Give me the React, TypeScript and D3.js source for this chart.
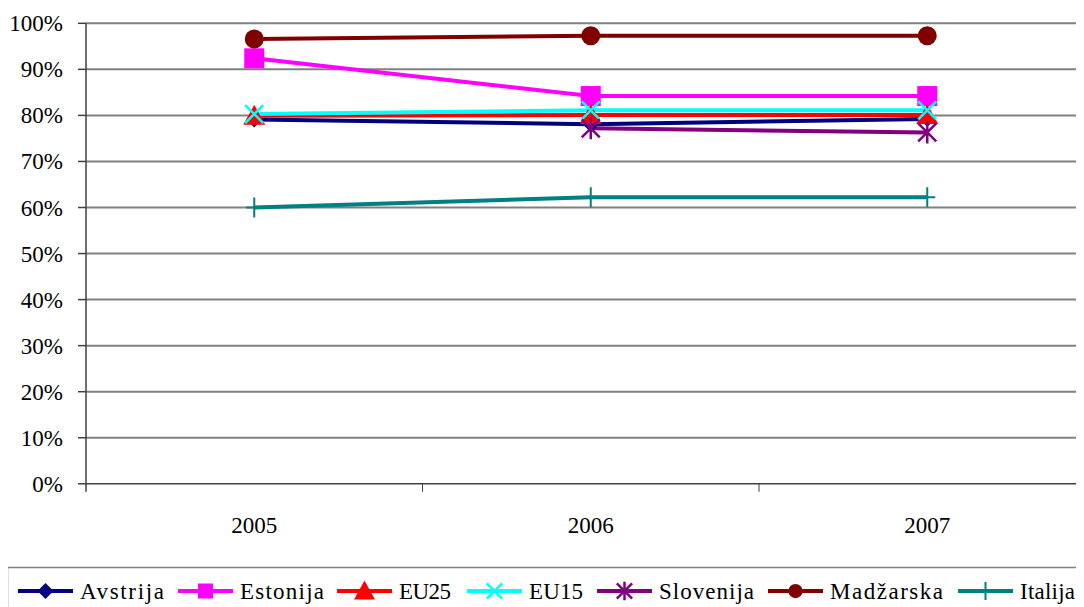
import React, { useEffect, useRef } from "react";
import * as d3 from "d3";

const years = ["2005", "2006", "2007"];
const yTicks = [0, 10, 20, 30, 40, 50, 60, 70, 80, 90, 100];

const avstrija = [79.1, 78.1, 79.2];
const estonija = [92.4, 84.2, 84.2];
const eu25 = [79.9, 80.1, 80.1];
const eu15 = [80.3, 81.1, 81.1];
const slovenija = [null, 77.2, 76.3];
const madzarska = [96.6, 97.3, 97.3];
const italija = [60, 62.2, 62.2];

const seriesNames = ["Avstrija", "Estonija", "EU25", "EU15", "Slovenija", "Madžarska", "Italija"];
const seriesColors = ["#000080", "#FF00FF", "#FF0000", "#00FFFF", "#800080", "#800000", "#008080"];
const seriesMarkers = ["diamond", "square", "triangle", "x", "star", "circle", "plus"];
const seriesValues: (number | null)[][] = [avstrija, estonija, eu25, eu15, slovenija, madzarska, italija];

const W = 1084;
const H = 607;
const left = 86;
const bandW = 336.5;
const top = 23.3;
const bottom = 483.8;
const FONT = "Liberation Serif";

const legendStart = [18, 178, 337, 467, 597, 768, 958];
const legendTextW = [84, 84, 52, 54, 95, 113, 55];
const legendMarkerScale = [1, 0.75, 0.95, 0.85, 0.85, 0.75, 0.9];

function drawMarker(g: any, type: string, x: number, y: number, color: string, s = 1) {
  switch (type) {
    case "diamond":
      g.append("path").attr("d", `M${x},${y - 8 * s}L${x + 8 * s},${y}L${x},${y + 8 * s}L${x - 8 * s},${y}Z`).attr("fill", color);
      break;
    case "square":
      g.append("rect").attr("x", x - 10 * s).attr("y", y - 10 * s).attr("width", 20 * s).attr("height", 20 * s).attr("fill", color);
      break;
    case "triangle":
      g.append("path").attr("d", `M${x},${y - 11 * s}L${x + 11 * s},${y + 9 * s}L${x - 11 * s},${y + 9 * s}Z`).attr("fill", color);
      break;
    case "x":
      g.append("path")
        .attr("d", `M${x - 9 * s},${y - 9 * s}L${x + 9 * s},${y + 9 * s}M${x + 9 * s},${y - 9 * s}L${x - 9 * s},${y + 9 * s}`)
        .attr("stroke", color)
        .attr("stroke-width", 2.5);
      break;
    case "star":
      g.append("path")
        .attr(
          "d",
          `M${x - 9 * s},${y - 9 * s}L${x + 9 * s},${y + 9 * s}M${x + 9 * s},${y - 9 * s}L${x - 9 * s},${y + 9 * s}M${x},${y - 11 * s}L${x},${y + 11 * s}`
        )
        .attr("stroke", color)
        .attr("stroke-width", 2.5);
      break;
    case "circle":
      g.append("circle").attr("cx", x).attr("cy", y).attr("r", 9.5 * s).attr("fill", color);
      break;
    case "plus":
      g.append("path")
        .attr("d", `M${x - 8 * s},${y}L${x + 8 * s},${y}M${x},${y - 10 * s}L${x},${y + 10 * s}`)
        .attr("stroke", color)
        .attr("stroke-width", 2);
      break;
  }
}

export default function App() {
  const ref = useRef<SVGSVGElement | null>(null);

  useEffect(() => {
    const svg = d3.select(ref.current);
    svg.selectAll("*").remove();
    svg.append("rect").attr("width", W).attr("height", H).attr("fill", "#fff");

    const x = d3.scaleBand<string>().domain(years).range([left, left + bandW * years.length]);
    const y = d3.scaleLinear().domain([0, 100]).range([bottom, top]);
    const cx = (yr: string) => (x(yr) as number) + x.bandwidth() / 2;

    // gridlines and y labels
    yTicks.forEach((t) => {
      if (t > 0)
        svg.append("line").attr("x1", left).attr("x2", W).attr("y1", y(t)).attr("y2", y(t)).attr("stroke", "#808080").attr("stroke-width", 2);
      svg.append("line").attr("x1", left - 8).attr("x2", left).attr("y1", y(t)).attr("y2", y(t)).attr("stroke", "#404040").attr("stroke-width", 1.5);
      svg
        .append("text")
        .attr("x", 63)
        .attr("y", y(t) + 8)
        .attr("text-anchor", "end")
        .attr("font-family", FONT)
        .style("font-family", `"${FONT}"`)
        .attr("font-size", 23)
        .text(`${t}%`);
    });

    svg.append("line").attr("x1", left).attr("x2", left).attr("y1", top).attr("y2", bottom + 8).attr("stroke", "#404040").attr("stroke-width", 1.5);
    svg.append("line").attr("x1", left).attr("x2", W).attr("y1", bottom).attr("y2", bottom).attr("stroke", "#404040").attr("stroke-width", 1.5);

    years.forEach((yr, i) => {
      const tx = left + bandW * (i + 1);
      svg.append("line").attr("x1", tx).attr("x2", tx).attr("y1", bottom).attr("y2", bottom + 8).attr("stroke", "#404040").attr("stroke-width", 1);
      svg
        .append("text")
        .attr("x", cx(yr))
        .attr("y", 533)
        .attr("text-anchor", "middle")
        .attr("font-family", FONT)
        .style("font-family", `"${FONT}"`)
        .attr("font-size", 23)
        .text(yr);
    });

    const line = d3
      .line<{ yr: string; v: number | null }>()
      .defined((d) => d.v !== null)
      .x((d) => cx(d.yr))
      .y((d) => y(d.v as number));

    seriesValues.forEach((vals, si) => {
      svg
        .append("path")
        .attr("d", line(vals.map((v, i) => ({ yr: years[i], v }))) || "")
        .attr("fill", "none")
        .attr("stroke", seriesColors[si])
        .attr("stroke-width", 4);
    });
    seriesValues.forEach((vals, si) => {
      vals.forEach((v, i) => {
        if (v !== null) drawMarker(svg, seriesMarkers[si], cx(years[i]), y(v), seriesColors[si]);
      });
    });

    svg.append("rect").attr("x", 7.5).attr("y", 567.5).attr("width", W).attr("height", 60).attr("fill", "none").attr("stroke", "#808080").attr("stroke-width", 1.5);

    seriesNames.forEach((name, si) => {
      const lx = legendStart[si];
      svg.append("line").attr("x1", lx).attr("x2", lx + 55).attr("y1", 591).attr("y2", 591).attr("stroke", seriesColors[si]).attr("stroke-width", 4);
      drawMarker(svg, seriesMarkers[si], lx + 27.5, 591, seriesColors[si], legendMarkerScale[si]);
      svg
        .append("text")
        .attr("x", lx + 62)
        .attr("y", 599)
        .attr("font-family", FONT)
        .style("font-family", `"${FONT}"`)
        .attr("font-size", 23)
        .attr("textLength", legendTextW[si])
        .attr("lengthAdjust", "spacing")
        .text(name);
    });
  }, []);

  return (
    <svg ref={ref} width={W} height={H} style={{ display: "block", marginTop: -8, marginLeft: -8 }}>
      <style>{`text { font-family: "Liberation Serif", "Times New Roman", serif; }`}</style>
    </svg>
  );
}
